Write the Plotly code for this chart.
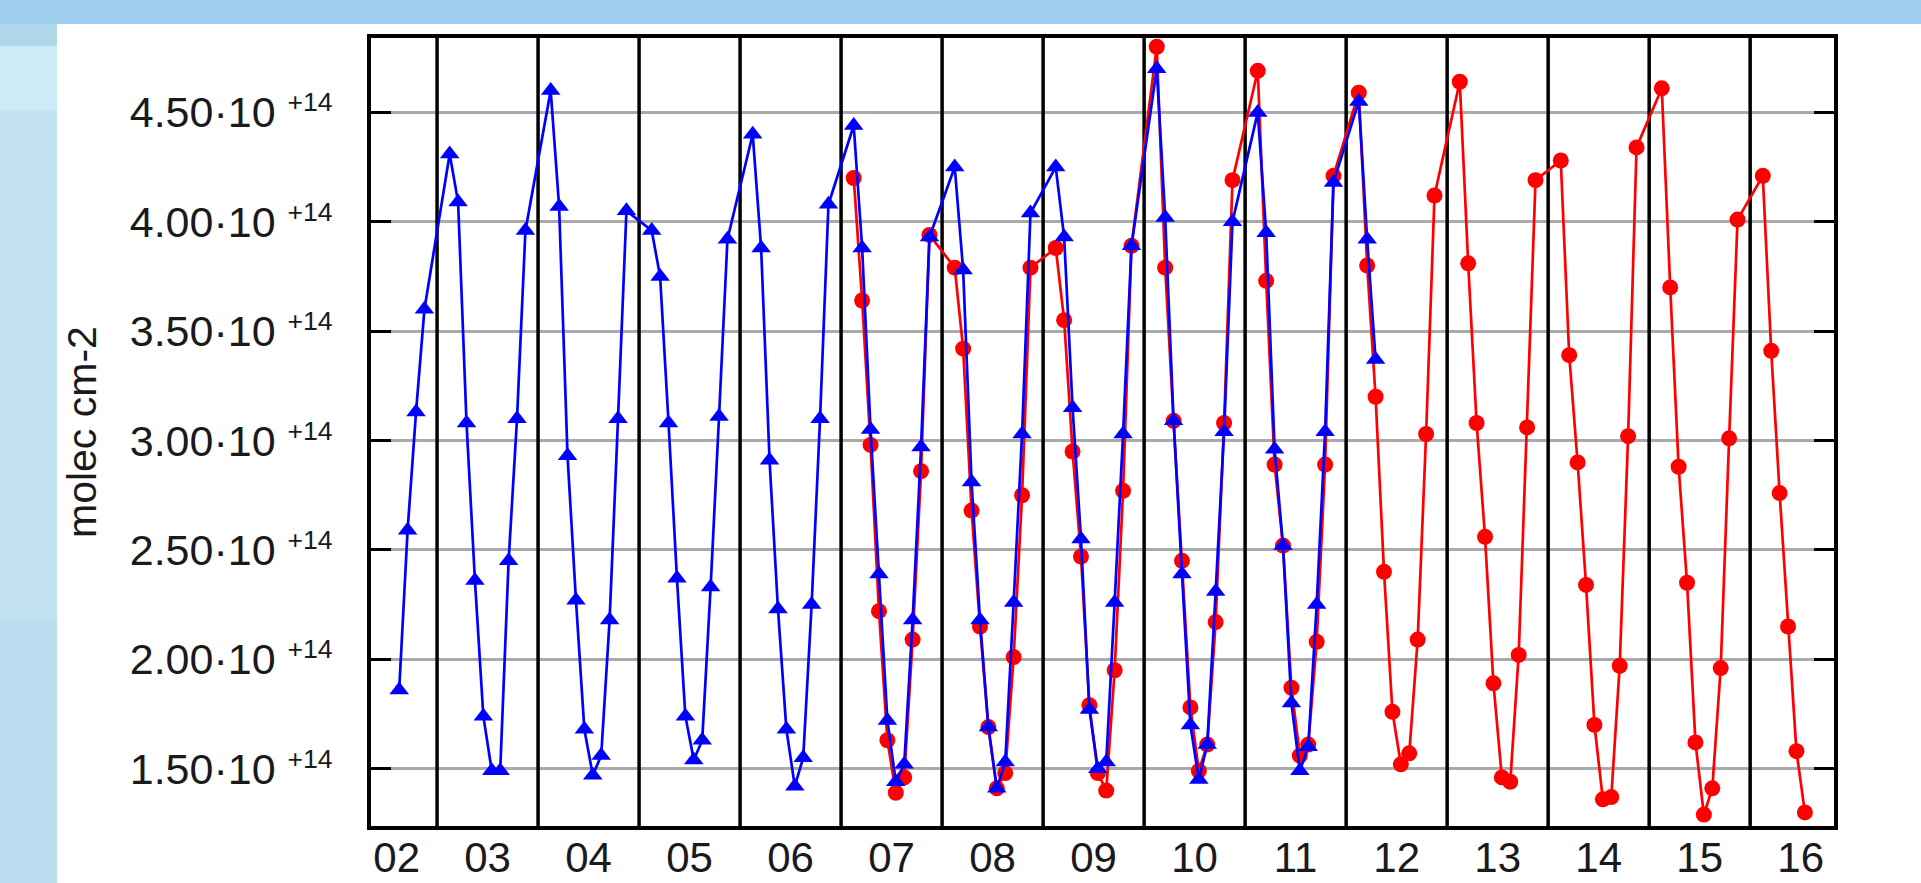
import plotly.graph_objects as go

# ---------------- data (column amounts in units of 1e14 molec cm-2) ----------------
SCALE = 1e14

blue_dates = [
    "2002-08", "2002-09", "2002-10", "2002-11",
    "2003-02", "2003-03", "2003-04", "2003-05", "2003-06", "2003-07", "2003-08", "2003-09", "2003-10", "2003-11",
    "2004-02", "2004-03", "2004-04", "2004-05", "2004-06", "2004-07", "2004-08", "2004-09", "2004-10", "2004-11",
    "2005-02", "2005-03", "2005-04", "2005-05", "2005-06", "2005-07", "2005-08", "2005-09", "2005-10", "2005-11",
    "2006-02", "2006-03", "2006-04", "2006-05", "2006-06", "2006-07", "2006-08", "2006-09", "2006-10", "2006-11",
    "2007-02", "2007-03", "2007-04", "2007-05", "2007-06", "2007-07", "2007-08", "2007-09", "2007-10", "2007-11",
    "2008-02", "2008-03", "2008-04", "2008-05", "2008-06", "2008-07", "2008-08", "2008-09", "2008-10", "2008-11",
    "2009-02", "2009-03", "2009-04", "2009-05", "2009-06", "2009-07", "2009-08", "2009-09", "2009-10", "2009-11",
    "2010-02", "2010-03", "2010-04", "2010-05", "2010-06", "2010-07", "2010-08", "2010-09", "2010-10", "2010-11",
    "2011-02", "2011-03", "2011-04", "2011-05", "2011-06", "2011-07", "2011-08", "2011-09", "2011-10", "2011-11",
    "2012-02", "2012-03", "2012-04",
]
blue_values = [
    1.86, 2.59, 3.13, 3.60,
    4.31, 4.09, 3.08, 2.36, 1.74, 1.49, 1.49, 2.45, 3.10, 3.96,
    4.60, 4.07, 2.93, 2.27, 1.68, 1.47, 1.56, 2.18, 3.10, 4.05,
    3.96, 3.75, 3.08, 2.37, 1.74, 1.54, 1.63, 2.33, 3.11, 3.92,
    4.40, 3.88, 2.91, 2.23, 1.68, 1.42, 1.55, 2.25, 3.10, 4.08,
    4.44, 3.88, 3.05, 2.39, 1.72, 1.44, 1.52, 2.18, 2.97, 3.93,
    4.25, 3.78, 2.81, 2.18, 1.69, 1.41, 1.53, 2.26, 3.03, 4.04,
    4.25, 3.93, 3.15, 2.55, 1.77, 1.50, 1.53, 2.26, 3.03, 3.89,
    4.70, 4.02, 3.09, 2.39, 1.70, 1.45, 1.61, 2.31, 3.04, 4.00,
    4.50, 3.95, 2.96, 2.52, 1.80, 1.49, 1.60, 2.25, 3.04, 4.18,
    4.55, 3.92, 3.37,
]

red_dates = [
    "2007-02", "2007-03", "2007-04", "2007-05", "2007-06", "2007-07", "2007-08", "2007-09", "2007-10", "2007-11",
    "2008-02", "2008-03", "2008-04", "2008-05", "2008-06", "2008-07", "2008-08", "2008-09", "2008-10", "2008-11",
    "2009-02", "2009-03", "2009-04", "2009-05", "2009-06", "2009-07", "2009-08", "2009-09", "2009-10", "2009-11",
    "2010-02", "2010-03", "2010-04", "2010-05", "2010-06", "2010-07", "2010-08", "2010-09", "2010-10", "2010-11",
    "2011-02", "2011-03", "2011-04", "2011-05", "2011-06", "2011-07", "2011-08", "2011-09", "2011-10", "2011-11",
    "2012-02", "2012-03", "2012-04", "2012-05", "2012-06", "2012-07", "2012-08", "2012-09", "2012-10", "2012-11",
    "2013-02", "2013-03", "2013-04", "2013-05", "2013-06", "2013-07", "2013-08", "2013-09", "2013-10", "2013-11",
    "2014-02", "2014-03", "2014-04", "2014-05", "2014-06", "2014-07", "2014-08", "2014-09", "2014-10", "2014-11",
    "2015-02", "2015-03", "2015-04", "2015-05", "2015-06", "2015-07", "2015-08", "2015-09", "2015-10", "2015-11",
    "2016-02", "2016-03", "2016-04", "2016-05", "2016-06", "2016-07",
]
red_values = [
    4.20, 3.64, 2.98, 2.22, 1.63, 1.39, 1.46, 2.09, 2.86, 3.94,
    3.79, 3.42, 2.68, 2.15, 1.69, 1.41, 1.48, 2.01, 2.75, 3.79,
    3.88, 3.55, 2.95, 2.47, 1.79, 1.48, 1.40, 1.95, 2.77, 3.89,
    4.80, 3.79, 3.09, 2.45, 1.78, 1.49, 1.61, 2.17, 3.08, 4.19,
    4.69, 3.73, 2.89, 2.52, 1.87, 1.56, 1.61, 2.08, 2.89, 4.21,
    4.59, 3.80, 3.20, 2.40, 1.76, 1.52, 1.57, 2.09, 3.03, 4.12,
    4.64, 3.81, 3.08, 2.56, 1.89, 1.46, 1.44, 2.02, 3.06, 4.19,
    4.28, 3.39, 2.90, 2.34, 1.70, 1.36, 1.37, 1.97, 3.02, 4.34,
    4.61, 3.70, 2.88, 2.35, 1.62, 1.29, 1.41, 1.96, 3.01, 4.01,
    4.21, 3.41, 2.76, 2.15, 1.58, 1.30,
]

year_boundaries = [2003, 2004, 2005, 2006, 2007, 2008, 2009, 2010, 2011, 2012, 2013, 2014, 2015, 2016]
x_label_pos = [2002.6, 2003.5, 2004.5, 2005.5, 2006.5, 2007.5, 2008.5, 2009.5, 2010.5,
               2011.5, 2012.5, 2013.5, 2014.5, 2015.5, 2016.5]
x_label_text = ["02", "03", "04", "05", "06", "07", "08", "09", "10",
                "11", "12", "13", "14", "15", "16"]
y_tick_vals = [1.5, 2.0, 2.5, 3.0, 3.5, 4.0, 4.5]
y_tick_mant = ["1.50", "2.00", "2.50", "3.00", "3.50", "4.00", "4.50"]
y_exp_text = "+14"
y_label = "molec cm-2"

X_RANGE = [2002.346, 2016.83]
Y_RANGE = [1.238, 4.84]


def to_decimal_year(s):
    y, m = s.split("-")
    return int(y) + (int(m) - 0.5) / 12.0


# ---------------- layout geometry ----------------
FIG_W, FIG_H = 1921, 883
ML, MR, MT, MB = 371, 87, 38, 57
PW, PH = FIG_W - ML - MR, FIG_H - MT - MB


def px_x(px):
    return (px - ML) / PW


def px_y(py):
    return 1 - (py - MT) / PH


FONT = "Liberation Sans, Arial, Helvetica, sans-serif"
TXT = "#1a1a1a"

fig = go.Figure()

fig.add_trace(go.Scatter(
    x=[to_decimal_year(d) for d in red_dates],
    y=[v * SCALE for v in red_values],
    mode="lines+markers",
    line=dict(color="#ff0000", width=2.7),
    marker=dict(symbol="circle", size=16, color="#ff0000"),
    showlegend=False,
))
fig.add_trace(go.Scatter(
    x=[to_decimal_year(d) for d in blue_dates],
    y=[v * SCALE for v in blue_values],
    mode="lines+markers",
    line=dict(color="#0000ff", width=2.7),
    marker=dict(symbol="triangle-up", size=17, color="#0000ff"),
    showlegend=False,
))

shapes = []
# slide background pieces
shapes.append(dict(type="rect", xref="paper", yref="paper", layer="below",
                   x0=px_x(0), x1=px_x(FIG_W), y0=px_y(24), y1=px_y(0),
                   fillcolor="#9fcfee", line=dict(width=0)))
shapes.append(dict(type="rect", xref="paper", yref="paper", layer="below",
                   x0=px_x(57), x1=px_x(FIG_W), y0=px_y(FIG_H), y1=px_y(24),
                   fillcolor="#ffffff", line=dict(width=0)))
shapes.append(dict(type="rect", xref="paper", yref="paper", layer="below",
                   x0=px_x(0), x1=px_x(57), y0=px_y(46), y1=px_y(24),
                   fillcolor="#b0d6e9", line=dict(width=0)))
shapes.append(dict(type="rect", xref="paper", yref="paper", layer="below",
                   x0=px_x(0), x1=px_x(57), y0=px_y(110), y1=px_y(46),
                   fillcolor="#cdebf7", line=dict(width=0)))
shapes.append(dict(type="rect", xref="paper", yref="paper", layer="below",
                   x0=px_x(0), x1=px_x(57), y0=px_y(FIG_H), y1=px_y(620),
                   fillcolor="#badeef", line=dict(width=0)))
# year separators
for yb in year_boundaries:
    shapes.append(dict(type="line", xref="x", yref="y", layer="between",
                       x0=yb, x1=yb, y0=Y_RANGE[0] * SCALE, y1=Y_RANGE[1] * SCALE,
                       line=dict(color="#000000", width=3.5)))

fig.update_layout(
    width=FIG_W, height=FIG_H,
    margin=dict(l=ML, r=MR, t=MT, b=MB, pad=0),
    paper_bgcolor="#c4e3f2",
    plot_bgcolor="#ffffff",
    font=dict(family=FONT, color=TXT, size=42),
    shapes=shapes,
    showlegend=False,
    annotations=[dict(
        text=y_label, xref="paper", yref="paper", x=px_x(82), y=0.5,
        textangle=-90, showarrow=False, xanchor="center", yanchor="middle",
        font=dict(family=FONT, size=41, color=TXT),
    )],
)

fig.update_xaxes(
    range=X_RANGE, autorange=False,
    tickmode="array", tickvals=x_label_pos, ticktext=x_label_text,
    ticks="", showgrid=False, zeroline=False,
    showline=True, linecolor="#000000", linewidth=3.5, mirror=True,
    tickfont=dict(family=FONT, size=42, color=TXT),
    ticklabelstandoff=-8,
    automargin=False,
)
fig.update_yaxes(
    range=[Y_RANGE[0] * SCALE, Y_RANGE[1] * SCALE], autorange=False,
    tickmode="array", tickvals=[v * SCALE for v in y_tick_vals],
    ticktext=[m + "\u00b710\u00a0<span style='font-size:38px'><sup>"
              + y_exp_text + "</sup></span>" for m in y_tick_mant],
    ticks="inside", ticklen=20, tickwidth=3, tickcolor="#000000",
    showgrid=True, gridcolor="#aaaaaa", gridwidth=2.5, zeroline=False,
    showline=True, linecolor="#000000", linewidth=3.5, mirror="ticks",
    tickfont=dict(family=FONT, size=43, color=TXT),
    ticklabelstandoff=26,
    automargin=False,
)

fig.write_html("out.html", config={"displayModeBar": False},
               post_script="document.body.style.margin='0';document.body.style.overflow='hidden';")
